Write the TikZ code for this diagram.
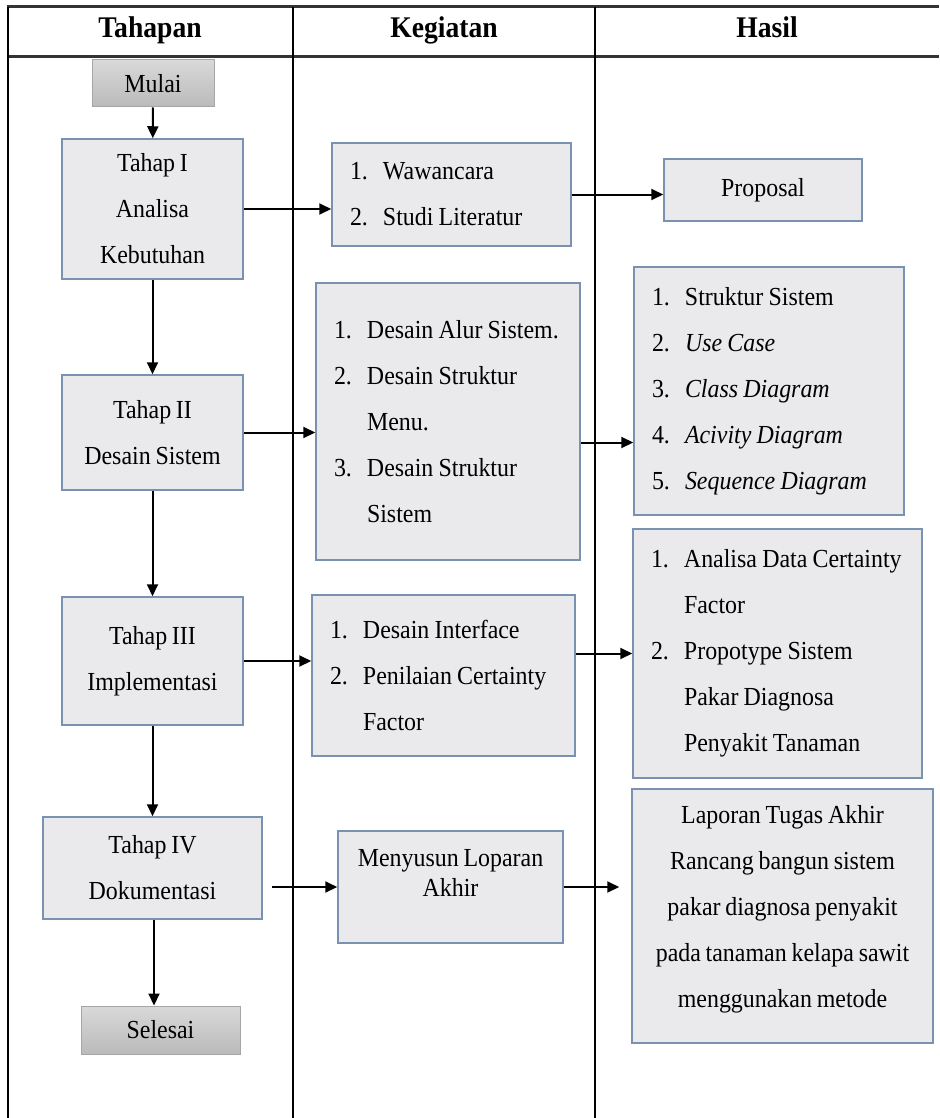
\documentclass[tikz,border=0pt]{standalone}
\usepackage{fontspec}
\setmainfont{Liberation Serif}[FakeStretch=0.92,WordSpace=0.8]
\usetikzlibrary{arrows.meta}
\definecolor{boxfill}{RGB}{234,233,236}
\definecolor{boxline}{RGB}{122,146,178}
\tikzset{
  tahapbox/.style={draw=boxline, fill=boxfill, line width=1.5pt, align=center, inner sep=0pt, font=\fontsize{26}{46}\selectfont},
  listbox/.style={tahapbox, align=left, inner xsep=18pt},
  endbox/.style={draw=black!35, top color=black!15, bottom color=black!27, line width=1pt, inner sep=0pt, font=\fontsize{26}{46}\selectfont},
  arr/.style={-{Triangle[length=12pt,width=11pt]}, line width=2pt},
  judul/.style={anchor=base, font=\fontsize{30}{36}\selectfont\bfseries}
}
\newcommand{\butir}[2]{\makebox[33pt][l]{#1}\mbox{\spaceskip=0.2em #2}}
\begin{document}
\begin{tikzpicture}[x=1pt,y=-1pt]
    \useasboundingbox (0,0) rectangle (939,1118);
    % tabel
    \draw[line width=3pt, black!80] (7,7) -- (939,7);
    \draw[line width=3pt, black!80] (7,57) -- (939,57);
    \draw[line width=1.8pt] (8,7) -- (8,1118);
    \draw[line width=1.8pt] (293,7) -- (293,1118);
    \draw[line width=1.8pt] (595,7) -- (595,1118);
    \node[judul] (hdA) at (150,38) {Tahapan};
    \node[judul] (hdB) at (444,38) {Kegiatan};
    \node[judul] (hdC) at (767,38) {Hasil};

    % tahapan
    \node[endbox, minimum width=122, minimum height=47] (mulai) at (153,83.5) {Mulai};
    \node[tahapbox, minimum width=181, minimum height=140] (t1) at (152.5,209) {Tahap I\\Analisa\\Kebutuhan};
    \node[tahapbox, minimum width=181, minimum height=115] (t2) at (152.5,432.5) {Tahap II\\Desain Sistem};
    \node[tahapbox, minimum width=181, minimum height=128] (t3) at (152.5,661) {Tahap III\\Implementasi};
    \node[tahapbox, minimum width=219, minimum height=102] (t4) at (152.5,868) {Tahap IV\\Dokumentasi};
    \node[endbox, minimum width=159, minimum height=48] (selesai) at (160.5,1030) {Selesai};

    % kegiatan
    \node[listbox, text width=203, minimum height=103] (k1) at (451.5,194.5)
        {\butir{1.}{Wawancara}\\\butir{2.}{Studi Literatur}};
    \node[listbox, text width=228, minimum height=277] (k2) at (448,421.5)
        {\butir{1.}{Desain Alur Sistem.}\\\butir{2.}{Desain Struktur}\\\butir{}{Menu.}\\\butir{3.}{Desain Struktur}\\\butir{}{Sistem}};
    \node[listbox, text width=227, minimum height=161] (k3) at (443.5,675.5)
        {\butir{1.}{Desain Interface}\\\butir{2.}{Penilaian Certainty}\\\butir{}{Factor}};
    \node[tahapbox, minimum width=225, minimum height=112, font=\fontsize{26}{30}\selectfont] (k4) at (450.5,887)
        {Menyusun Loparan\\Akhir\\[-2pt]};

    % hasil
    \node[tahapbox, minimum width=198, minimum height=62] (h1) at (763,190) {Proposal};
    \node[listbox, text width=234, minimum height=248] (h2) at (769,391)
        {\butir{1.}{Struktur Sistem}\\\butir{2.}{\textit{Use Case}}\\\butir{3.}{\textit{Class Diagram}}\\\butir{4.}{\textit{Acivity Diagram}}\\\butir{5.}{\textit{Sequence Diagram}}};
    \node[listbox, text width=253, minimum height=249] (h3) at (777.5,653.5)
        {\butir{1.}{Analisa Data Certainty}\\\butir{}{Factor}\\\butir{2.}{Propotype Sistem}\\\butir{}{Pakar Diagnosa}\\\butir{}{Penyakit Tanaman}};
    \node[tahapbox, minimum width=301, minimum height=254] (h4) at (782.5,916)
        {Laporan Tugas Akhir\\Rancang bangun sistem\\pakar diagnosa penyakit\\pada tanaman kelapa sawit\\menggunakan metode\\[-27pt]};

    % panah
    \draw[arr] (mulai) -- (t1);
    \draw[arr] (t1) -- (t2);
    \draw[arr] (t2) -- (t3);
    \draw[arr] (t3) -- (t4);
    \draw[arr] ([xshift=1.5pt]t4.south) -- ([xshift=1.5pt]t4.south |- selesai.north);
    \draw[arr] (t1.east) -- (t1.east -| k1.west);
    \draw[arr] (k1.east) -- (k1.east -| h1.west);
    \draw[arr] (t2.east) -- (t2.east -| k2.west);
    \draw[arr] ([yshift=-21pt]k2.east) -- ([yshift=-21pt]k2.east -| h2.west);
    \draw[arr] (t3.east) -- (t3.east -| k3.west);
    \draw[arr] (k3.east |- h3.west) -- (h3.west);
    \draw[arr] ([xshift=9pt]t4.east |- k4.west) -- (k4.west);
    \draw[arr] (k4.east) -- ([xshift=-12pt]h4.west |- k4.east);
\end{tikzpicture}
\end{document}
